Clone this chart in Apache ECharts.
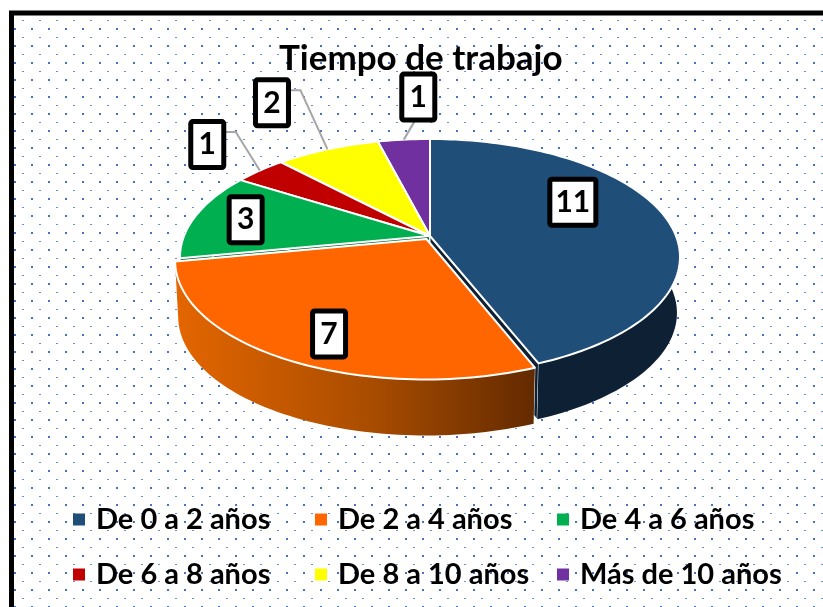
<!DOCTYPE html>
<html lang="es">
<head>
<meta charset="utf-8">
<title>Tiempo de trabajo</title>
<style>html,body{margin:0;padding:0;background:#fff}#c{width:823px;height:607px}</style>
<script src="https://cdn.jsdelivr.net/npm/echarts@6/dist/echarts.min.js"></script>
</head>
<body>
<div id="c"></div>
<script>
const chartTitle = 'Tiempo de trabajo';
const categories = ['De 0 a 2 años', 'De 2 a 4 años', 'De 4 a 6 años', 'De 6 a 8 años', 'De 8 a 10 años', 'Más de 10 años'];
const values = [11, 7, 3, 1, 2, 1];
const colors = ['#1F4E79', '#FF6600', '#00B050', '#C00000', '#FFFF00', '#7030A0'];
const wallColors = ['#0E2033', '#5E2800', '#0A6B3A', '#7A0000', '#A0A000', '#47205F'];
const explode = [0, 0.03, 0, 0, 0, 0];
// layout (not data)
const view = { cx: 430, cy: 236, A: 246, B: 114.3, k: 0.178, depth: 56, A2: 243 };
const labelOffsets = [[-91, -13], [44.5, -25], [49.5, 4.5], [-52.5, -26], [-55.5, -46.5], [14.5, -42.5]];
const leaderLines = [null, null, null, [[18.5, -12.5], [28.5, -12.5]], [[18.5, -12.5], [28.5, -12.5]], [[-4.5, 25.5]]];
const legendColumns = [[0, 3, 73], [1, 4, 315], [2, 5, 557]];
const FONT = 'Lato';

const total = values.reduce((a, b) => a + b, 0);
let run = 0;
const spans = values.map(v => { const s = run / total * 2 * Math.PI; run += v; return [s, run / total * 2 * Math.PI]; });

function project(s, c, level) {
  const w = 1 + view.k * c;
  const A = level ? view.A2 : view.A;
  return [view.cx + A * s / w, view.cy + (level ? view.depth : 0) - view.B * c / w];
}
function pt(i, t, r, level) {
  const m = (spans[i][0] + spans[i][1]) / 2, e = explode[i];
  return project(r * Math.sin(t) + e * Math.sin(m), r * Math.cos(t) + e * Math.cos(m), level);
}
function arc(i, level, t0, t1) {
  const a = t0 === undefined ? spans[i][0] : t0, b = t1 === undefined ? spans[i][1] : t1;
  const n = Math.max(2, Math.ceil((b - a) * 40)), out = [];
  for (let j = 0; j <= n; j++) out.push(pt(i, a + (b - a) * j / n, 1, level));
  return out;
}
const poly = (points, style, extra) => Object.assign({ type: 'polygon', shape: { points }, style }, extra || {});
const sideFill = i => i === 1
  ? { type: 'linear', x: 0, y: 0, x2: 1, y2: 0, colorStops: [{ offset: 0, color: '#E46600' }, { offset: 0.55, color: '#A84C00' }, { offset: 1, color: '#632A00' }] }
  : wallColors[i];

function renderSlice(i) {
  return function () {
    const [a, b] = spans[i];
    const edge = { stroke: '#FFFFFF', lineWidth: 2, lineJoin: 'round' };
    const children = [];
    for (const t of [a, b]) {
      children.push(poly([pt(i, t, 0, 0), pt(i, t, 1, 0), pt(i, t, 1, 1), pt(i, t, 0, 1)],
        { fill: wallColors[i], stroke: '#FFFFFF', lineWidth: 1 }));
    }
    const topArc = arc(i, 0), botArc = arc(i, 1).reverse();
    children.push(poly(topArc.concat(botArc), { fill: sideFill(i), stroke: i < 2 ? null : '#FFFFFF', lineWidth: 1 }));
    children.push(poly([pt(i, a, 0, 0)].concat(topArc), Object.assign({ fill: colors[i] }, edge)));
    return { type: 'group', children };
  };
}

function renderLabel(params) {
  const i = params.dataIndex;
  const rim = pt(i, (spans[i][0] + spans[i][1]) / 2, 1, 0);
  const cx = rim[0] + labelOffsets[i][0], cy = rim[1] + labelOffsets[i][1];
  const text = String(values[i]);
  const w = text.length > 1 ? 46 : 33, h = 46;
  const children = [];
  if (leaderLines[i]) {
    children.push({
      type: 'polyline',
      shape: { points: leaderLines[i].map(p => [cx + p[0], cy + p[1]]).concat([rim]) },
      style: { stroke: '#A6A6A6', lineWidth: 2, fill: null }
    });
  }
  children.push({
    type: 'rect', shape: { x: cx - w / 2, y: cy - h / 2, width: w, height: h, r: 2 },
    style: { fill: '#FFFFFF', stroke: '#000000', lineWidth: 5 }
  });
  children.push({
    type: 'text',
    style: { x: cx, y: cy, text, align: 'center', verticalAlign: 'middle', fill: '#000000', font: 'bold 30px ' + FONT }
  });
  return { type: 'group', children };
}

function dotTile() {
  const cv = document.createElement('canvas');
  cv.width = 17; cv.height = 17;
  const g = cv.getContext('2d');
  g.fillStyle = '#FFFFFF'; g.fillRect(0, 0, 17, 17);
  g.fillStyle = '#4472C4'; g.fillRect(14, 11, 2, 2);
  g.fillStyle = '#6A90D4'; g.fillRect(5, 3, 2, 1);
  return cv;
}

// back-to-front draw order
const drawOrder = [5, 4, 3, 2, 0, 1];
const series = drawOrder.map((i, n) => ({
  type: 'custom', name: categories[i], coordinateSystem: 'none', z: 3 + n,
  itemStyle: { color: colors[i] }, silent: true,
  data: [{ name: categories[i], value: values[i] }],
  renderItem: renderSlice(i)
}));
series.push({
  type: 'custom', name: 'etiquetas', coordinateSystem: 'none', z: 20, silent: true,
  data: values.map((v, i) => ({ name: categories[i], value: v })),
  renderItem: renderLabel
});

const chart = echarts.init(document.getElementById('c'));
chart.setOption({
  animation: false,
  backgroundColor: '#FFFFFF',
  title: { text: chartTitle, left: 279, top: 41, padding: 0,
    textStyle: { fontFamily: FONT, fontWeight: 'bold', fontSize: 35, color: '#000000' } },
  graphic: [{
    type: 'rect', z: -5, silent: true,
    shape: { x: 11.5, y: 13, width: 1000, height: 800 },
    style: { fill: { image: dotTile(), repeat: 'repeat' }, stroke: '#000000', lineWidth: 5 }
  }],
  legend: legendColumns.map(col => ({
    orient: 'vertical', left: col[2], top: 505, padding: 0, selectedMode: false,
    itemWidth: 12, itemHeight: 12, itemGap: 26, icon: 'rect',
    data: [categories[col[0]], categories[col[1]]],
    textStyle: { fontFamily: FONT, fontWeight: 'bold', fontSize: 29, color: '#000000', padding: [0, 0, 0, 6] }
  })),
  series
});
</script>
</body>
</html>
